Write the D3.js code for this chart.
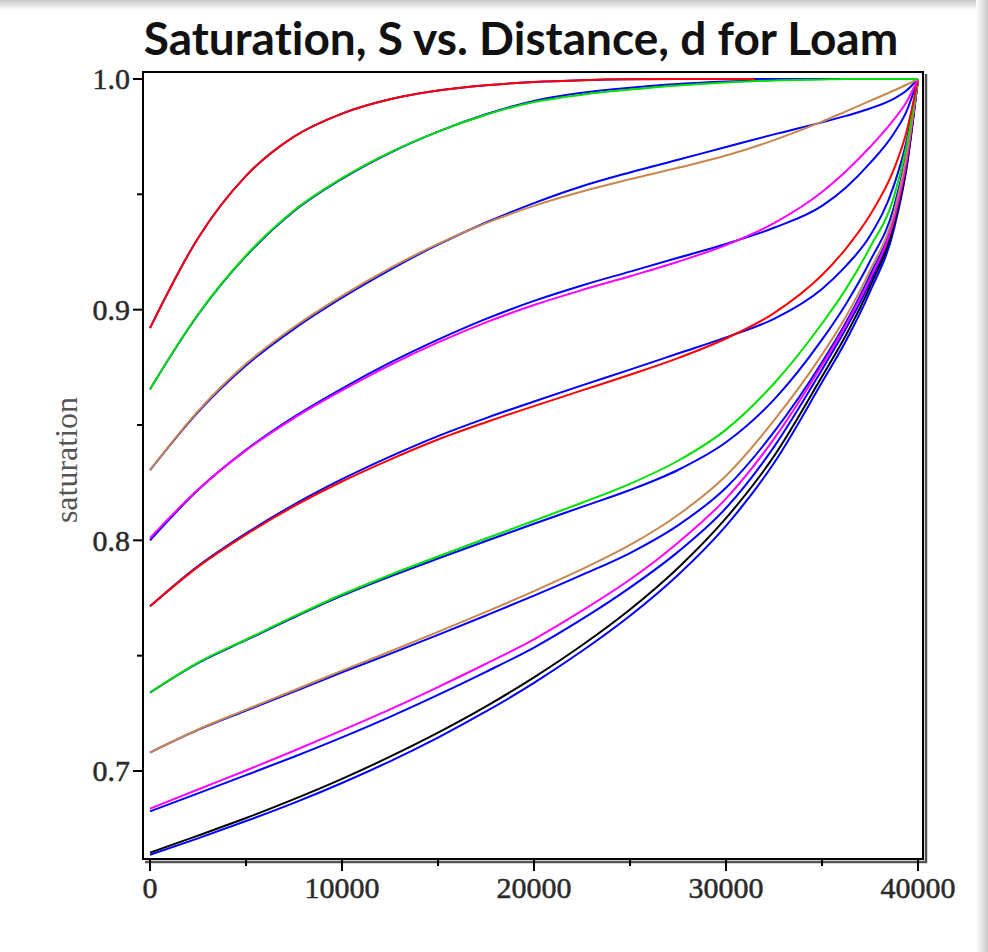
<!DOCTYPE html>
<html>
<head>
<meta charset="utf-8">
<script src="https://cdn.jsdelivr.net/npm/d3@7"></script>
<style>
    body { margin: 0; background: #fff; }
    .tick-label { font-family: "Liberation Serif", "DejaVu Serif", serif; font-size: 30px; fill: #2a2a2a; stroke: #2a2a2a; stroke-width: 0.5; }
    .y-axis-label { font-family: "Liberation Serif", "DejaVu Serif", serif; font-size: 32px; fill: #555; }
    .title { font-family: Lato, "Open Sans", sans-serif; font-weight: bold; font-size: 46px; fill: #111; font-variant-ligatures: none; }
    .curve { fill: none; stroke-width: 2; }
</style>
</head>
<body>
<div id="chart-area"></div>
<script>

// distance grid (m) shared by the curves
var distance = [0, 2500, 5000, 7500, 10000, 12500, 15000, 17500, 20000, 22500, 25000, 27500, 30000,
                32500, 35000, 36250, 37500, 38750, 39400, 40000];
// the top red curve stops early
var distanceTop = [0, 2500, 5000, 7500, 10000, 12500, 15000, 17500, 20000, 22500, 25000, 27500, 30000, 31500];

// saturation values, one pair (colored + blue) per initial saturation
var red1     = [0.892, 0.931, 0.958, 0.975, 0.985, 0.9912, 0.995, 0.9973, 0.9987, 0.9995, 0.9999, 1.0, 1.0, 1.0];
var blue1    = [0.892, 0.931, 0.958, 0.975, 0.985, 0.9912, 0.995, 0.9973, 0.9987, 0.9995, 0.9999, 1.0, 1.0, 1.0, 1.0, 1.0, 1.0, 1.0, 1.0, 1.0];
var green2   = [0.8655, 0.8980, 0.9235, 0.9430, 0.9570, 0.9682, 0.9772, 0.9845, 0.9900, 0.9932, 0.9954, 0.9972, 0.9985, 0.9994, 0.9998, 1.0, 1.0, 1.0, 1.0, 1.0];
var blue2    = [0.8655, 0.8978, 0.9232, 0.9427, 0.9567, 0.9680, 0.9772, 0.9847, 0.9905, 0.9940, 0.9962, 0.9978, 0.9989, 0.9996, 1.0, 1.0, 1.0, 1.0, 1.0, 1.0];
var brown3   = [0.8304, 0.8560, 0.8765, 0.8925, 0.9060, 0.9180, 0.9285, 0.9375, 0.9450, 0.9512, 0.9565, 0.9615, 0.9668, 0.9735, 0.9815, 0.9860, 0.9905, 0.9950, 0.9975, 1.0];
var blue3    = [0.8304, 0.8556, 0.8758, 0.8917, 0.9052, 0.9173, 0.9282, 0.9378, 0.9462, 0.9535, 0.9595, 0.9650, 0.9705, 0.9760, 0.9812, 0.9840, 0.9872, 0.9915, 0.9950, 1.0];
var magenta4 = [0.8010, 0.8220, 0.8390, 0.8530, 0.8650, 0.8760, 0.8858, 0.8945, 0.9020, 0.9085, 0.9145, 0.9208, 0.9280, 0.9375, 0.9510, 0.9600, 0.9705, 0.9825, 0.9900, 1.0];
var blue4    = [0.8000, 0.8218, 0.8392, 0.8535, 0.8658, 0.8770, 0.8870, 0.8960, 0.9038, 0.9105, 0.9165, 0.9225, 0.9285, 0.9355, 0.9450, 0.9530, 0.9635, 0.9765, 0.9860, 1.0];
var red5     = [0.7714, 0.7885, 0.8025, 0.8148, 0.8255, 0.8350, 0.8437, 0.8512, 0.8582, 0.8650, 0.8718, 0.8790, 0.8875, 0.8985, 0.9150, 0.9265, 0.9410, 0.9610, 0.9770, 1.0];
var blue5    = [0.7714, 0.7888, 0.8030, 0.8155, 0.8265, 0.8363, 0.8452, 0.8530, 0.8602, 0.8672, 0.8740, 0.8810, 0.8880, 0.8960, 0.9090, 0.9190, 0.9320, 0.9540, 0.9730, 1.0];
var green6   = [0.7340, 0.7470, 0.7570, 0.7670, 0.7765, 0.7850, 0.7930, 0.8008, 0.8085, 0.8163, 0.8245, 0.8345, 0.8480, 0.8680, 0.8940, 0.9090, 0.9270, 0.9490, 0.9710, 1.0];
var blue6    = [0.7340, 0.7468, 0.7567, 0.7666, 0.7760, 0.7843, 0.7921, 0.7997, 0.8072, 0.8145, 0.8218, 0.8305, 0.8425, 0.8610, 0.8870, 0.9025, 0.9210, 0.9445, 0.9680, 1.0];
var brown7   = [0.7080, 0.7180, 0.7266, 0.7350, 0.7435, 0.7518, 0.7603, 0.7690, 0.7780, 0.7875, 0.7980, 0.8110, 0.8280, 0.8520, 0.8805, 0.8970, 0.9170, 0.9420, 0.9670, 1.0];
var blue7    = [0.7080, 0.7178, 0.7262, 0.7344, 0.7428, 0.7508, 0.7590, 0.7674, 0.7760, 0.7850, 0.7945, 0.8065, 0.8228, 0.8470, 0.8772, 0.8945, 0.9150, 0.9402, 0.9658, 1.0];
var magenta8 = [0.6837, 0.6920, 0.7002, 0.7088, 0.7176, 0.7267, 0.7364, 0.7465, 0.7571, 0.7695, 0.7830, 0.7990, 0.8181, 0.8440, 0.8760, 0.8935, 0.9135, 0.9392, 0.9640, 1.0];
var blue8    = [0.6825, 0.6903, 0.6982, 0.7062, 0.7146, 0.7235, 0.7330, 0.7430, 0.7535, 0.7658, 0.7795, 0.7950, 0.8140, 0.8405, 0.8740, 0.8918, 0.9120, 0.9380, 0.9632, 1.0];
var black9   = [0.6646, 0.6720, 0.6796, 0.6878, 0.6966, 0.7062, 0.7166, 0.7280, 0.7406, 0.7545, 0.7700, 0.7880, 0.8096, 0.8365, 0.8710, 0.8890, 0.9100, 0.9367, 0.9620, 1.0];
var blue9    = [0.6637, 0.6708, 0.6783, 0.6862, 0.6948, 0.7042, 0.7145, 0.7258, 0.7382, 0.7520, 0.7673, 0.7850, 0.8063, 0.8335, 0.8685, 0.8865, 0.9078, 0.9350, 0.9610, 1.0];

// axis ticks
var xMajorTicks = [0, 10000, 20000, 30000, 40000];
var xMinorTicks = [5000, 15000, 25000, 35000];
var yMajorTicks = [0.7, 0.8, 0.9, 1.0];
var yMinorTicks = [0.75, 0.85, 0.95];

var titleText = "Saturation, S vs. Distance, d for Loam";
var yLabelText = "saturation";

var BLUE = "#0000ff", RED = "#ff0000", GREEN = "#00e000", BROWN = "#c8874f", MAGENTA = "#ff00ff", BLACK = "#000000";

/*
 * SaturationVis - Object constructor function
 * @param _parentElement  -- the HTML element in which to draw the visualization
 */
SaturationVis = function(_parentElement){
    this.parentElement = _parentElement;

    // blue companions first, colored curves over them
    this.series = [
        { d: distance, s: blue9, color: BLUE },
        { d: distance, s: blue8, color: BLUE },
        { d: distance, s: blue7, color: BLUE },
        { d: distance, s: blue6, color: BLUE },
        { d: distance, s: blue5, color: BLUE },
        { d: distance, s: blue4, color: BLUE },
        { d: distance, s: blue3, color: BLUE },
        { d: distance, s: blue2, color: BLUE },
        { d: distance, s: blue1, color: BLUE },
        { d: distance, s: black9, color: BLACK },
        { d: distance, s: magenta8, color: MAGENTA },
        { d: distance, s: brown7, color: BROWN },
        { d: distance, s: green6, color: GREEN },
        { d: distance, s: red5, color: RED },
        { d: distance, s: magenta4, color: MAGENTA },
        { d: distance, s: brown3, color: BROWN },
        { d: distance, s: green2, color: GREEN },
        { d: distanceTop, s: red1, color: RED }
    ];

    this.initVis();
}

SaturationVis.prototype.initVis = function(){
    var vis = this;

    vis.width = 988;
    vis.height = 952;

    vis.svg = d3.select("#" + vis.parentElement).append("svg")
        .attr("width", vis.width)
        .attr("height", vis.height);

    // slide shadow along top and right edge
    var defs = vis.svg.append("defs");
    var gTop = defs.append("linearGradient").attr("id", "shade-top")
        .attr("x1", 0).attr("y1", 0).attr("x2", 0).attr("y2", 1);
    gTop.append("stop").attr("offset", "0%").attr("stop-color", "#c8c8c8");
    gTop.append("stop").attr("offset", "100%").attr("stop-color", "#ffffff");
    var gRight = defs.append("linearGradient").attr("id", "shade-right")
        .attr("x1", 1).attr("y1", 0).attr("x2", 0).attr("y2", 0);
    gRight.append("stop").attr("offset", "0%").attr("stop-color", "#c8c8c8");
    gRight.append("stop").attr("offset", "100%").attr("stop-color", "#ffffff");

    vis.svg.append("rect").attr("x", 0).attr("y", 0).attr("width", vis.width).attr("height", 10)
        .attr("fill", "url(#shade-top)");
    vis.svg.append("rect").attr("x", vis.width - 12).attr("y", 0).attr("width", 12).attr("height", vis.height)
        .attr("fill", "url(#shade-right)");

    // Scales
    vis.x = d3.scaleLinear().domain([0, 40000]).range([150, 918]);
    vis.y = d3.scaleLinear().domain([0.7, 1.0]).range([771, 79]);

    vis.frame = { left: 143, right: 923, top: 72, bottom: 859 };

    vis.line = d3.line()
        .x(function(p){ return vis.x(p[0]); })
        .y(function(p){ return vis.y(p[1]); })
        .curve(d3.curveMonotoneX);

    // Title
    vis.svg.append("text")
        .attr("class", "title")
        .attr("x", 521)
        .attr("y", 55)
        .attr("text-anchor", "middle")
        .text(titleText);

    vis.updateVis();
}

SaturationVis.prototype.updateVis = function(){
    var vis = this;
    var f = vis.frame;

    //======= Curves ======//
    var plot = vis.svg.append("g").attr("class", "plot");
    plot.selectAll(".curve")
        .data(vis.series)
        .enter()
        .append("path")
        .attr("class", "curve")
        .attr("stroke", function(d){ return d.color; })
        .attr("d", function(d){
            return vis.line(d.d.map(function(v, i){ return [v, d.s[i]]; }));
        });

    //======= Frame ======//
    vis.svg.append("path")
        .attr("d", "M" + (f.right + 3) + "," + (f.top + 2) + "V" + (f.bottom + 3) + "H" + (f.left + 2))
        .attr("fill", "none")
        .attr("stroke", "#555")
        .attr("stroke-width", 2.5);
    vis.svg.append("rect")
        .attr("x", f.left).attr("y", f.top)
        .attr("width", f.right - f.left).attr("height", f.bottom - f.top)
        .attr("fill", "none")
        .attr("stroke", "#000")
        .attr("stroke-width", 2);

    //======= Y axis ticks ======//
    var yAxis = vis.svg.append("g").attr("class", "y-axis");
    yAxis.selectAll(".major").data(yMajorTicks).enter().append("line")
        .attr("x1", f.left - 10).attr("x2", f.left)
        .attr("y1", function(d){ return vis.y(d); })
        .attr("y2", function(d){ return vis.y(d); })
        .attr("stroke", "#000").attr("stroke-width", 2);
    yAxis.selectAll(".minor").data(yMinorTicks).enter().append("line")
        .attr("x1", f.left - 6).attr("x2", f.left)
        .attr("y1", function(d){ return vis.y(d); })
        .attr("y2", function(d){ return vis.y(d); })
        .attr("stroke", "#000").attr("stroke-width", 2);
    yAxis.selectAll(".tick-label").data(yMajorTicks).enter().append("text")
        .attr("class", "tick-label")
        .attr("x", f.left - 13)
        .attr("y", function(d){ return vis.y(d); })
        .attr("dy", "0.34em")
        .attr("text-anchor", "end")
        .text(d3.format(".1f"));

    //======= X axis ticks ======//
    var xAxis = vis.svg.append("g").attr("class", "x-axis");
    xAxis.selectAll(".major").data(xMajorTicks).enter().append("line")
        .attr("x1", function(d){ return vis.x(d); })
        .attr("x2", function(d){ return vis.x(d); })
        .attr("y1", f.bottom).attr("y2", f.bottom + 12)
        .attr("stroke", "#000").attr("stroke-width", 2);
    xAxis.selectAll(".minor").data(xMinorTicks).enter().append("line")
        .attr("x1", function(d){ return vis.x(d); })
        .attr("x2", function(d){ return vis.x(d); })
        .attr("y1", f.bottom).attr("y2", f.bottom + 7)
        .attr("stroke", "#000").attr("stroke-width", 2);
    xAxis.selectAll(".tick-label").data(xMajorTicks).enter().append("text")
        .attr("class", "tick-label")
        .attr("x", function(d){ return vis.x(d); })
        .attr("y", f.bottom + 39)
        .attr("text-anchor", "middle")
        .text(function(d){ return String(d); });

    //======= Y axis label ======//
    vis.svg.append("text")
        .attr("class", "y-axis-label")
        .attr("transform", "translate(77,460) rotate(-90)")
        .attr("text-anchor", "middle")
        .text(yLabelText);
}

var saturationVis = new SaturationVis("chart-area");

</script>
</body>
</html>
